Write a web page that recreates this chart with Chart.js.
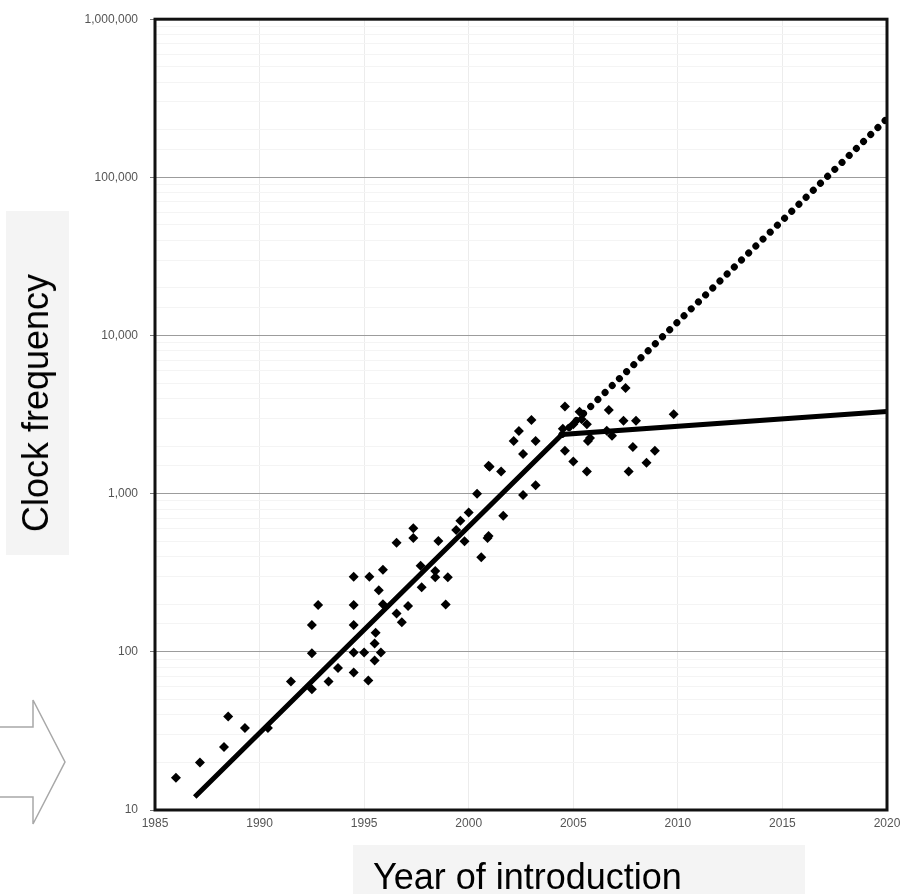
<!DOCTYPE html>
<html>
<head>
<meta charset="utf-8">
<script src="https://cdn.jsdelivr.net/npm/chart.js@4/dist/chart.umd.min.js"></script>
<style>
  html, body { margin: 0; padding: 0; background: #ffffff; }
  #wrap { position: relative; width: 913px; height: 894px; overflow: hidden; background: #ffffff; }
  #c { position: absolute; left: 0; top: 0; }
  .tbox { position: absolute; background: #f4f4f4; }
  .ttl { position: absolute; font-family: "Liberation Sans", Arial, sans-serif; font-size: 36px; color: #000; white-space: nowrap; line-height: 1; }
  #arrow { position: absolute; left: 0; top: 690px; }
</style>
</head>
<body>
<div id="wrap">
  <div class="tbox" style="left:6px; top:211px; width:63px; height:344px;"></div>
  <div class="tbox" style="left:353px; top:845px; width:452px; height:49px;"></div>
  <svg id="arrow" width="80" height="150" viewBox="0 0 80 150">
    <polygon points="-2,37 33,37 33,10 65,72 33,134 33,107 -2,107" fill="#ffffff" stroke="#a8a8a8" stroke-width="1.5"/>
  </svg>
  <canvas id="c" width="913" height="894"></canvas>
  <div class="ttl" id="ytitle" style="left:36px; top:403px; transform: translate(-50%,-50%) rotate(-90deg);">Clock frequency</div>
  <div class="ttl" id="xtitle" style="left:373px; top:859px;">Year of introduction</div>
</div>
<script>
// ---- data ----
const scatterYears = [
  1986.0, 1987.15, 1988.3, 1988.5, 1989.3, 1990.4, 1991.5, 1992.5, 1992.5, 1992.5,
  1992.8, 1993.3, 1993.75, 1994.5, 1994.5, 1994.5, 1994.5, 1994.5, 1995.25, 1995.9,
  1995.7, 1995.55, 1995.5, 1995.0, 1995.8, 1995.5, 1995.2, 1996.55, 1997.35, 1997.35,
  1996.8, 1996.55, 1997.1, 1998.9, 1998.4, 1999.0, 1998.55, 1997.75, 1997.7, 1999.6,
  1999.8, 2000.4, 2000.6, 2000.95, 2000.9, 2004.6, 2004.5, 2004.6, 2003.0, 2002.4,
  2002.15, 2003.2, 2002.6, 2001.0, 2001.55, 2003.2, 2002.6, 2001.65, 2000.95, 2000.0,
  2005.3, 2005.4, 2005.0, 2005.65, 2007.5, 2006.7, 2007.4, 2008.0, 2009.8, 2005.7,
  2006.6, 2006.85, 2005.0, 2005.65, 2007.85, 2008.9, 2008.5, 2007.65, 1995.9, 1999.4,
  1998.4, 2005.8
];
const scatterValues = [
  16, 20, 25, 39, 33, 33, 65, 58, 98, 148,
  198, 65, 79, 298, 198, 148, 99, 74, 298, 330,
  245, 132, 113, 99, 99, 88, 66, 490, 524, 605,
  154, 175, 195, 199, 296, 296, 502, 256, 350, 675,
  500, 1000, 396, 1500, 525, 3560, 2570, 1870, 2920, 2490,
  2150, 2150, 1780, 1480, 1380, 1130, 980, 725, 540, 760,
  3300, 2950, 2750, 2750, 4650, 3380, 2890, 2890, 3180, 2150,
  2500, 2320, 1600, 1380, 1970, 1870, 1570, 1380, 200, 590,
  325, 2250
];
const trendYears = [1986.9, 2004.46, 2020];
const trendValues = [12.1, 2370, 3310];
const projectionYears = [2004.46, 2020];
const projectionValues = [2370, 235000];
const xTickYears = [1985, 1990, 1995, 2000, 2005, 2010, 2015, 2020];
const yTickValues = [10, 100, 1000, 10000, 100000, 1000000];

// ---- build datasets ----
const toXY = (xs, ys) => xs.map((x, i) => ({ x: x, y: ys[i] }));
const isDecade = v => yTickValues.includes(Math.round(v));

const boxPlugin = {
  id: 'box',
  afterDatasetsDraw(chart) {
    const a = chart.chartArea, ctx = chart.ctx;
    ctx.save();
    ctx.strokeStyle = '#111';
    ctx.lineWidth = 3;
    ctx.strokeRect(a.left, a.top, a.right - a.left, a.bottom - a.top);
    ctx.restore();
  }
};

new Chart(document.getElementById('c'), {
  type: 'scatter',
  data: {
    datasets: [
      {
        label: 'Processors',
        data: toXY(scatterYears, scatterValues),
        pointStyle: 'rectRot',
        pointRadius: 5,
        backgroundColor: '#000',
        borderColor: '#000',
        borderWidth: 0,
        order: 1
      },
      {
        label: 'Trend',
        data: toXY(trendYears, trendValues),
        showLine: true,
        borderColor: '#000',
        borderWidth: 5,
        pointRadius: 0,
        borderCapStyle: 'butt',
        order: 2
      },
      {
        label: 'Projection',
        data: toXY(projectionYears, projectionValues),
        showLine: true,
        borderColor: '#000',
        borderWidth: 7,
        borderDash: [0.01, 10],
        borderCapStyle: 'round',
        pointRadius: 0,
        order: 3
      }
    ]
  },
  options: {
    responsive: false,
    animation: false,
    devicePixelRatio: 1,
    layout: { padding: { left: 0, top: 15, right: 26, bottom: 0 } },
    plugins: { legend: { display: false }, tooltip: { enabled: false } },
    scales: {
      x: {
        type: 'linear',
        min: xTickYears[0],
        max: xTickYears[xTickYears.length - 1],
        afterBuildTicks(scale) { scale.ticks = xTickYears.map(v => ({ value: v })); },
        afterFit(scale) { scale.height = 84; },
        border: { display: false },
        grid: { color: '#ececec', lineWidth: 1, drawTicks: false },
        ticks: {
          padding: 6,
          color: '#555',
          font: { family: 'Liberation Sans', size: 12 },
          callback: v => String(v)
        }
      },
      y: {
        type: 'logarithmic',
        min: yTickValues[0],
        max: yTickValues[yTickValues.length - 1],
        afterFit(scale) { scale.width = 155; },
        border: { display: false },
        grid: {
          color: ctx => (ctx.tick && isDecade(ctx.tick.value)) ? '#9c9c9c' : '#f4f4f4',
          tickColor: ctx => (ctx.tick && isDecade(ctx.tick.value)) ? '#777' : 'rgba(0,0,0,0)',
          tickLength: 5,
          lineWidth: 1
        },
        ticks: {
          autoSkip: false,
          padding: 12,
          color: '#555',
          font: { family: 'Liberation Sans', size: 12 },
          callback: v => isDecade(v) ? Math.round(v).toLocaleString('en-US') : ''
        }
      }
    }
  },
  plugins: [boxPlugin]
});
</script>
</body>
</html>
